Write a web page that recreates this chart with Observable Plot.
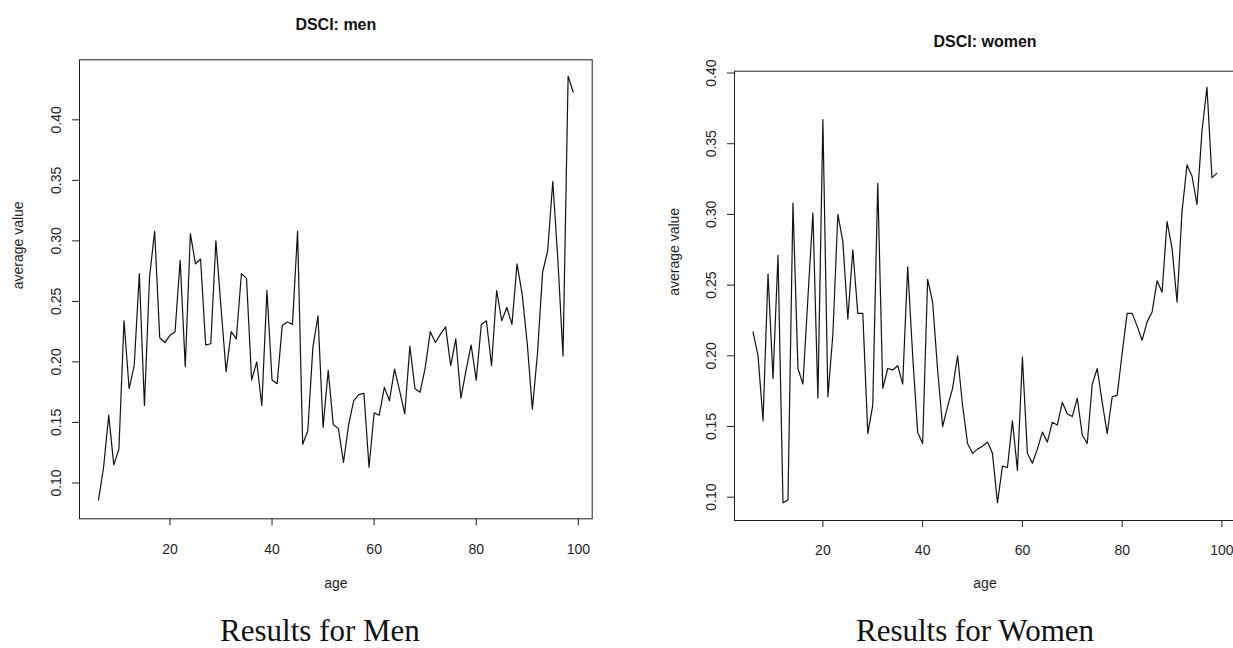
<!DOCTYPE html>
<html>
<head>
<meta charset="utf-8">
<script src="https://cdn.jsdelivr.net/npm/d3@7"></script>
<script src="https://cdn.jsdelivr.net/npm/@observablehq/plot@0.6"></script>
<style>
  html, body { margin: 0; padding: 0; background: #fff; overflow: hidden; width: 1233px; height: 648px; }
  #wrap { position: relative; width: 1233px; height: 648px; overflow: hidden; }
  .panel { position: absolute; top: 0; }
  .panel svg { max-width: none !important; }
  .caption { position: absolute; width: 400px; text-align: center; font-family: "Liberation Serif", serif; font-size: 31px; line-height: 31px; color: #111; white-space: nowrap; }
</style>
</head>
<body>
<div id="wrap"></div>
<script>
// ages (x values)
const ages = [6,7,8,9,10,11,12,13,14,15,16,17,18,19,20,21,22,23,24,25,26,27,28,29,30,31,32,33,34,35,36,37,38,39,40,41,42,43,44,45,46,47,48,49,50,51,52,53,54,55,56,57,58,59,60,61,62,63,64,65,66,67,68,69,70,71,72,73,74,75,76,77,78,79,80,81,82,83,84,85,86,87,88,89,90,91,92,93,94,95,96,97,98,99];

// DSCI average value, men (age 6..99)
const menValues = [0.086,0.113,0.156,0.115,0.128,0.234,0.178,0.197,0.273,0.164,
  0.270,0.308,0.220,0.216,0.222,0.225,0.284,0.196,0.306,0.281,
  0.285,0.214,0.215,0.300,0.245,0.192,0.225,0.219,0.273,0.269,
  0.185,0.200,0.164,0.259,0.185,0.182,0.230,0.233,0.231,0.308,
  0.132,0.143,0.212,0.238,0.146,0.193,0.148,0.145,0.117,0.148,
  0.168,0.173,0.174,0.113,0.158,0.156,0.179,0.168,0.194,0.176,
  0.157,0.213,0.178,0.175,0.195,0.225,0.216,0.223,0.229,0.197,
  0.219,0.170,0.193,0.214,0.185,0.231,0.234,0.197,0.259,0.234,
  0.245,0.231,0.281,0.256,0.215,0.161,0.207,0.274,0.292,0.349,
  0.284,0.205,0.436,0.423];

// DSCI average value, women (age 6..99)
const womenValues = [0.217,0.200,0.154,0.258,0.184,0.271,0.096,0.098,0.308,0.191,
  0.180,0.241,0.301,0.170,0.367,0.171,0.215,0.300,0.281,0.226,
  0.275,0.230,0.230,0.145,0.165,0.322,0.177,0.191,0.190,0.193,
  0.180,0.263,0.200,0.146,0.138,0.254,0.238,0.190,0.150,0.164,
  0.177,0.200,0.165,0.138,0.131,0.134,0.136,0.139,0.131,0.096,
  0.122,0.121,0.154,0.119,0.199,0.131,0.124,0.134,0.146,0.139,
  0.153,0.151,0.167,0.159,0.157,0.170,0.144,0.138,0.180,0.191,
  0.167,0.145,0.171,0.172,0.202,0.230,0.230,0.221,0.211,0.224,
  0.231,0.253,0.245,0.295,0.276,0.238,0.302,0.335,0.327,0.307,
  0.359,0.390,0.326,0.329];

const xTicks = [20, 40, 60, 80, 100];
const yTicks = [0.10, 0.15, 0.20, 0.25, 0.30, 0.35, 0.40];
const titles = ["DSCI: men", "DSCI: women"];
const captions = ["Results for Men", "Results for Women"];
const xLabel = "age";
const yLabel = "average value";

function makePanel(values, title, cfg) {
  const data = ages.map((a, i) => ({age: a, value: values[i]}));
  return Plot.plot({
    width: cfg.width,
    height: cfg.height,
    marginLeft: cfg.marginLeft,
    marginRight: cfg.marginRight,
    marginTop: cfg.marginTop,
    marginBottom: cfg.marginBottom,
    style: {fontFamily: "'Liberation Sans', Arial, sans-serif", fontSize: "14px", color: "#1e1e1e", background: "transparent", overflow: "visible", maxWidth: "none"},
    x: {domain: [2.28, 102.72], axis: null},
    y: {domain: cfg.yDomain, axis: null},
    marks: [
      Plot.axisX(xTicks, {tickSize: 7, tickPadding: 18, label: null, stroke: "#1e1e1e", fontSize: 14}),
      Plot.axisY(yTicks, {tickSize: 7, tickPadding: 12, tickRotate: -90, tickFormat: d3.format(".2f"), label: null, stroke: "#1e1e1e", fontSize: 14}),
      Plot.frame({stroke: "#1e1e1e", strokeWidth: 1}),
      Plot.line(data, {x: "age", y: "value", stroke: "#111", strokeWidth: 1.2}),
      Plot.text([title], {frameAnchor: "top", lineAnchor: "bottom", dy: cfg.titleDy, fontSize: 16, fontWeight: "bold", fill: "#111"}),
      Plot.text([xLabel], {frameAnchor: "bottom", lineAnchor: "middle", dy: cfg.xLabelDy, fontSize: 14, fill: "#1e1e1e"}),
      Plot.text([yLabel], {frameAnchor: "left", lineAnchor: "middle", rotate: -90, dx: cfg.yLabelDx, fontSize: 14, fill: "#1e1e1e"})
    ]
  });
}

const wrap = document.getElementById("wrap");

const left = makePanel(menValues, titles[0], {
  width: 620, height: 600, marginLeft: 79, marginRight: 28.3, marginTop: 59.3, marginBottom: 81.7,
  yDomain: [0.0704, 0.4496], xLabelDy: 65, yLabelDx: -61, titleDy: -30
});
const leftDiv = document.createElement("div");
leftDiv.className = "panel"; leftDiv.style.left = "0px"; leftDiv.style.width = "620px";
leftDiv.appendChild(left);
wrap.appendChild(leftDiv);

const right = makePanel(womenValues, titles[1], {
  width: 643, height: 600, marginLeft: 114, marginRight: 28, marginTop: 70.7, marginBottom: 80,
  yDomain: [0.0835, 0.4013], xLabelDy: 63, yLabelDx: -60, titleDy: -24
});
const rightDiv = document.createElement("div");
rightDiv.className = "panel"; rightDiv.style.left = "620px"; rightDiv.style.width = "643px";
rightDiv.appendChild(right);
wrap.appendChild(rightDiv);

const capCenters = [320, 975];
captions.forEach((c, i) => {
  const d = document.createElement("div");
  d.className = "caption";
  d.textContent = c;
  d.style.left = (capCenters[i] - 200) + "px";
  d.style.top = "615px";
  wrap.appendChild(d);
});
</script>
</body>
</html>
